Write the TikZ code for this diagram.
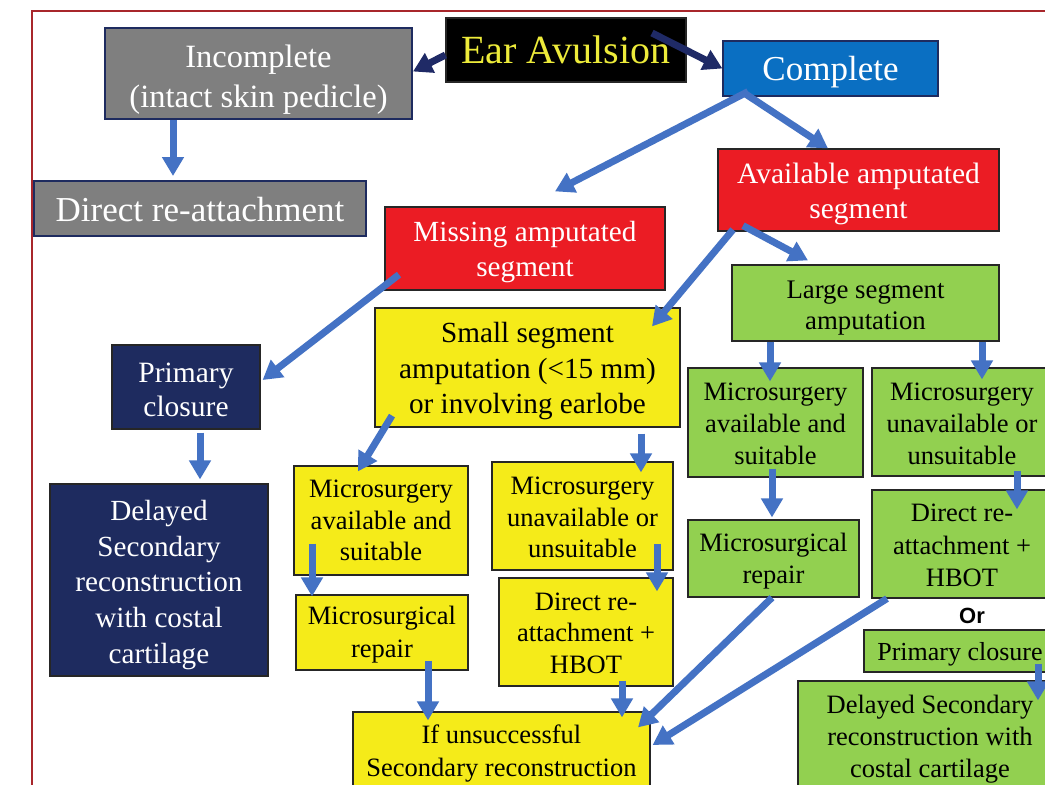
\documentclass[tikz,border=0pt]{standalone}
\usepackage{fontspec}
\setmainfont{Liberation Serif}
\newfontfamily\arialf{Liberation Sans}
\usetikzlibrary{arrows.meta}
\definecolor{navyc}{HTML}{1E2B5F}
\definecolor{grayc}{HTML}{7F7F7F}
\definecolor{bluec}{HTML}{0A6FC2}
\definecolor{redc}{HTML}{EB1C24}
\definecolor{greenc}{HTML}{92D050}
\definecolor{yellowc}{HTML}{F5EB19}
\definecolor{arrowc}{HTML}{4472C4}
\definecolor{darkarr}{HTML}{1F2A66}
\definecolor{framec}{HTML}{A8262B}
\definecolor{eartext}{HTML}{EDEB3A}
\newcommand\fsz[2]{\fontsize{#1pt}{#2pt}\selectfont}
\tikzset{
  bx/.style={draw=black!85, line width=1.2pt, inner sep=0pt, anchor=center},
  graybox/.style={bx, fill=grayc, draw=navyc, line width=2pt},
  redbox/.style={bx, fill=redc},
  navybox/.style={bx, fill=navyc},
  ylbox/.style={bx, fill=yellowc},
  grbox/.style={bx, fill=greenc},
  lw/.style={align=center, inner sep=0pt, text=white},
  lk/.style={align=center, inner sep=0pt, text=black},
  arr/.style={draw=arrowc, line width=7pt, -{Triangle[width=21pt,length=19pt]}},
  darr/.style={draw=darkarr, line width=7pt, -{Triangle[width=21pt,length=19pt]}},
}
\begin{document}
\begin{tikzpicture}[x=1pt,y=-1pt]
\useasboundingbox (0,0) rectangle (1045,785);
\clip (0,0) rectangle (1045,785);
\fill[white] (0,0) rectangle (1045,785);
\draw[framec, line width=2pt] (32,800) -- (32,11) -- (1060,11);

% nodes
\node[bx, fill=black, minimum width=240pt, minimum height=64pt,
  label={[lw, text=eartext, font=\fsz{40}{44}, yshift=0pt]center:Ear Avulsion}] (ear) at (566,50) {};
\node[graybox, minimum width=307pt, minimum height=91pt,
  label={[lw, font=\fsz{32.5}{40}, yshift=-6pt]center:Incomplete\\(intact skin pedicle)}] (inc) at (258.5,73.5) {};
\node[bx, fill=bluec, draw=navyc, minimum width=215pt, minimum height=55pt,
  label={[lw, font=\fsz{35}{40}, yshift=-4pt]center:Complete}] (comp) at (830.5,68.5) {};
\node[graybox, minimum width=332pt, minimum height=55pt,
  label={[lw, font=\fsz{35}{40}, yshift=-1pt]center:Direct re-attachment}] (dra) at (200,208.5) {};
\node[redbox, minimum width=280pt, minimum height=83pt,
  label={[lw, font=\fsz{29.2}{35}, yshift=-4pt]center:Missing amputated\\segment}] (miss) at (525,248.5) {};
\node[redbox, minimum width=281pt, minimum height=82pt,
  label={[lw, font=\fsz{29.5}{35}, yshift=-4pt]center:Available amputated\\segment}] (avail) at (858.5,190) {};
\node[grbox, minimum width=267pt, minimum height=76pt,
  label={[lk, font=\fsz{26.8}{31}, yshift=-5pt]center:Large segment\\amputation}] (large) at (865.5,303) {};
\node[ylbox, minimum width=305pt, minimum height=119pt,
  label={[lk, font=\fsz{29.2}{35.5}, yshift=-4pt]center:Small segment\\amputation (<15 mm)\\or involving earlobe}] (small) at (527.5,367.5) {};
\node[navybox, minimum width=148pt, minimum height=84pt,
  label={[lw, font=\fsz{29.5}{34.5}, yshift=-3pt]center:Primary\\closure}] (pc) at (186,387) {};
\node[navybox, minimum width=218pt, minimum height=192pt,
  label={[lw, font=\fsz{29.2}{35.8}, yshift=-5pt]center:Delayed\\Secondary\\reconstruction\\with costal\\cartilage}] (dsr) at (159,580) {};
\node[ylbox, minimum width=174pt, minimum height=109pt,
  label={[lk, font=\fsz{26.5}{31.5}, yshift=0pt]center:Microsurgery\\available and\\suitable}] (yma) at (381,520.5) {};
\node[ylbox, minimum width=172pt, minimum height=75pt,
  label={[lk, font=\fsz{26.5}{33}, yshift=-2pt]center:Microsurgical\\repair}] (ymr) at (382,632.5) {};
\node[ylbox, minimum width=181pt, minimum height=108pt,
  label={[lk, font=\fsz{26.5}{31.5}, yshift=-1.5pt]center:Microsurgery\\unavailable or\\unsuitable}] (ymu) at (582.5,516) {};
\node[ylbox, minimum width=174pt, minimum height=108pt,
  label={[lk, font=\fsz{26.5}{31.5}, yshift=-1pt]center:Direct re-\\attachment +\\HBOT}] (ydr) at (586,632) {};
\node[ylbox, minimum width=297pt, minimum height=80pt,
  label={[lk, font=\fsz{26.5}{33}, yshift=-2pt]center:If unsuccessful\\Secondary reconstruction}] (yif) at (501.5,752) {};
\node[grbox, minimum width=175pt, minimum height=109pt,
  label={[lk, font=\fsz{26.5}{32}, yshift=-1.5pt]center:Microsurgery\\available and\\suitable}] (gma) at (775.5,422.5) {};
\node[grbox, minimum width=180pt, minimum height=108pt,
  label={[lk, font=\fsz{26.5}{32}, yshift=-1.5pt]center:Microsurgery\\unavailable or\\unsuitable}] (gmu) at (962,422) {};
\node[grbox, minimum width=171pt, minimum height=77pt,
  label={[lk, font=\fsz{26.5}{32}, yshift=-3pt]center:Microsurgical\\repair}] (gmr) at (773.5,558.5) {};
\node[grbox, minimum width=180pt, minimum height=108pt,
  label={[lk, font=\fsz{26.5}{32.5}, yshift=-1.5pt]center:Direct re-\\attachment +\\HBOT}] (gdr) at (962,544) {};
\node[inner sep=0pt, font=\arialf\bfseries\fsz{22}{26}] (or) at (972,616) {Or};
\node[grbox, minimum width=192pt, minimum height=42pt,
  label={[lk, font=\fsz{26}{30}, yshift=-3pt]center:Primary closure}] (gpc) at (960,651) {};
\node[grbox, minimum width=264pt, minimum height=124pt,
  label={[lk, font=\fsz{26.5}{32}, yshift=3.5pt]center:Delayed Secondary\\reconstruction with\\costal cartilage}] (gdsr) at (930,743) {};

% connectors
\draw[darr] ([yshift=-5pt]ear.west) -- ([yshift=2pt]inc.east);
\draw[darr] ([xshift=86pt,yshift=17pt]ear.center) -- (comp.west);
\draw[arr] ([xshift=-85.5pt]inc.south) -- ([xshift=-27pt,yshift=4pt]dra.north);
\draw[arr] ([xshift=-82.5pt,yshift=5pt]comp.south) -- ([xshift=30pt,yshift=15pt]miss.north);
\draw[arr] ([xshift=-85.5pt,yshift=3pt]comp.south) -- ([xshift=-30.5pt]avail.north);
\draw[arr] ([xshift=-125.5pt,yshift=2pt]avail.south) -- ([xshift=124.5pt,yshift=-19pt]small.north);
\draw[arr] ([xshift=-115.5pt,yshift=6pt]avail.south) -- ([xshift=-57.5pt,yshift=4pt]large.north);
\draw[arr] ([xshift=-126pt,yshift=16pt]miss.south) -- ([xshift=2pt,yshift=7pt]pc.east);
\draw[arr] ([xshift=14pt,yshift=-3pt]pc.south) -- ([xshift=41pt,yshift=4pt]dsr.north);
\draw[arr] ([xshift=-135.5pt,yshift=12pt]small.south) -- ([xshift=-23pt,yshift=-6pt]yma.north);
\draw[arr] ([xshift=113.5pt,yshift=-6pt]small.south) -- ([xshift=58.5pt,yshift=-11pt]ymu.north);
\draw[arr] ([xshift=-69pt,yshift=32pt]yma.south) -- ([xshift=-70pt,yshift=-2pt]ymr.north);
\draw[arr] ([xshift=74.5pt,yshift=27pt]ymu.south) -- ([xshift=71pt,yshift=-14pt]ydr.north);
\draw[arr] ([xshift=46pt,yshift=10pt]ymr.south) -- ([xshift=-73.5pt,yshift=-9pt]yif.north);
\draw[arr] ([xshift=36pt,yshift=6pt]ydr.south) -- ([xshift=120.5pt,yshift=-6pt]yif.north);
\draw[arr] ([xshift=-95.5pt]large.south) -- ([xshift=-5.5pt,yshift=-14pt]gma.north);
\draw[arr] ([xshift=116.5pt]large.south) -- ([xshift=20pt,yshift=-12pt]gmu.north);
\draw[arr] ([xshift=-3.5pt,yshift=9pt]gma.south) -- ([xshift=-1.5pt,yshift=2pt]gmr.north);
\draw[arr] ([xshift=55pt,yshift=6pt]gmu.south) -- ([xshift=55pt,yshift=-20pt]gdr.north);
\draw[arr] ([xshift=-1.5pt]gmr.south) -- ([xshift=136.5pt,yshift=-16pt]yif.north);
\draw[arr] ([xshift=-75pt]gdr.south) -- ([xshift=2pt,yshift=7pt]yif.east);
\draw[arr] ([xshift=78pt,yshift=9pt]gpc.south) -- ([xshift=108pt,yshift=-20pt]gdsr.north);
\end{tikzpicture}
\end{document}
